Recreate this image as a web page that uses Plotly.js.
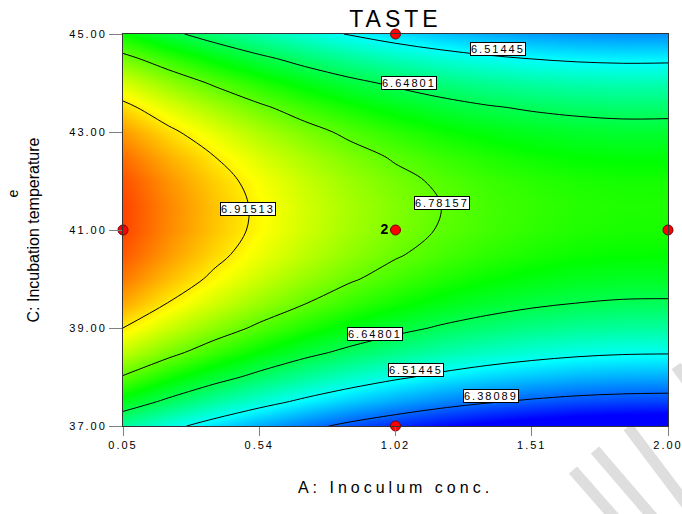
<!DOCTYPE html>
<html>
<head>
<meta charset="utf-8">
<script src="https://cdn.plot.ly/plotly-3.0.1.min.js"></script>
<style>
  html, body { margin: 0; padding: 0; background: #fff; }
  #chart { width: 682px; height: 514px; }
  .gtitle { letter-spacing: 4px; }
  .xtitle { letter-spacing: 4px; }
  .xtick text, .ytick text { letter-spacing: 2px; }
  .annotation-text { letter-spacing: 2px; }
</style>
</head>
<body>
<div id="chart"></div>
<script>
// A: Inoculum conc. grid
const inoculum = [0.05, 0.2125, 0.375, 0.5375, 0.7, 0.8625, 1.025, 1.1875, 1.35, 1.5125, 1.675, 1.8375, 2.0];
// C: Incubation temperature grid
const temperature = [37, 37.5, 38, 38.5, 39, 39.5, 40, 40.5, 41, 41.5, 42, 42.5, 43, 43.5, 44, 44.5, 45];
// TASTE response (rows = temperature, cols = inoculum)
const taste = [
  [6.588, 6.534, 6.485, 6.440, 6.400, 6.364, 6.334, 6.307, 6.286, 6.269, 6.257, 6.250, 6.247],
  [6.689, 6.635, 6.585, 6.541, 6.501, 6.466, 6.435, 6.409, 6.388, 6.372, 6.360, 6.353, 6.350],
  [6.777, 6.723, 6.674, 6.630, 6.590, 6.555, 6.525, 6.499, 6.478, 6.462, 6.450, 6.443, 6.441],
  [6.852, 6.799, 6.750, 6.706, 6.666, 6.632, 6.602, 6.576, 6.556, 6.540, 6.528, 6.521, 6.519],
  [6.915, 6.862, 6.814, 6.770, 6.731, 6.696, 6.666, 6.641, 6.621, 6.605, 6.594, 6.587, 6.586],
  [6.966, 6.913, 6.865, 6.822, 6.783, 6.748, 6.719, 6.694, 6.674, 6.658, 6.647, 6.641, 6.640],
  [7.005, 6.952, 6.904, 6.861, 6.822, 6.788, 6.759, 6.734, 6.714, 6.699, 6.688, 6.682, 6.681],
  [7.031, 6.979, 6.931, 6.888, 6.850, 6.816, 6.787, 6.762, 6.743, 6.728, 6.717, 6.712, 6.711],
  [7.046, 6.993, 6.946, 6.903, 6.865, 6.831, 6.802, 6.778, 6.759, 6.744, 6.734, 6.728, 6.728],
  [7.047, 6.995, 6.948, 6.905, 6.867, 6.834, 6.806, 6.782, 6.762, 6.748, 6.738, 6.733, 6.732],
  [7.037, 6.985, 6.938, 6.896, 6.858, 6.825, 6.797, 6.773, 6.754, 6.740, 6.730, 6.725, 6.725],
  [7.014, 6.962, 6.916, 6.873, 6.836, 6.803, 6.775, 6.752, 6.733, 6.719, 6.709, 6.705, 6.705],
  [6.979, 6.927, 6.881, 6.839, 6.802, 6.769, 6.741, 6.718, 6.700, 6.686, 6.677, 6.672, 6.672],
  [6.931, 6.880, 6.834, 6.792, 6.755, 6.723, 6.695, 6.672, 6.654, 6.641, 6.632, 6.627, 6.628],
  [6.871, 6.820, 6.774, 6.733, 6.696, 6.664, 6.637, 6.614, 6.596, 6.583, 6.574, 6.570, 6.571],
  [6.799, 6.749, 6.703, 6.662, 6.625, 6.593, 6.566, 6.544, 6.526, 6.513, 6.505, 6.501, 6.502],
  [6.715, 6.664, 6.619, 6.578, 6.542, 6.510, 6.483, 6.461, 6.444, 6.431, 6.423, 6.419, 6.420]
];
// contour levels
const levels = [6.38089, 6.51445, 6.64801, 6.78157, 6.91513];
// design points
const designA = [0.05, 1.025, 1.025, 2.0, 1.025];
const designC = [41, 45, 41, 41, 37];
const designLabel = ['', '', '2', '', ''];
// tick labels
const xTickVals = [0.05, 0.5375, 1.025, 1.5125, 2.0];
const xTickText = ['0.05', '0.54', '1.02', '1.51', '2.00'];
const yTickVals = [37, 39, 41, 43, 45];
const yTickText = ['37.00', '39.00', '41.00', '43.00', '45.00'];
// contour label text and placement
const labelText = ['6.51445', '6.64801', '6.91513', '6.78157', '6.64801', '6.51445', '6.38089'];
const labelA = [1.391, 1.072, 0.498, 1.190, 0.950, 1.097, 1.366];
const labelC = [44.70, 44.00, 41.43, 41.55, 38.88, 38.14, 37.61];

const FONT = 'Liberation Sans, Arial, sans-serif';

const colorscale = [
  [0, 'rgb(0,0,255)'],
  [0.2625, 'rgb(0,255,255)'],
  [0.5125, 'rgb(0,255,0)'],
  [0.75, 'rgb(255,255,0)'],
  [1, 'rgb(255,0,0)']
];

const traces = [
  {
    type: 'heatmap', x: inoculum, y: temperature, z: taste,
    zsmooth: 'best', colorscale: colorscale, zmin: 6.30, zmax: 7.10,
    showscale: false, hoverinfo: 'skip'
  },
  {
    type: 'contour', x: inoculum, y: temperature, z: taste,
    autocontour: false,
    contours: { coloring: 'none', start: levels[0], end: levels[levels.length - 1],
                size: levels[1] - levels[0], showlabels: false },
    line: { color: '#000', width: 1, smoothing: 1 },
    showscale: false, hoverinfo: 'skip'
  },
  {
    type: 'scatter', mode: 'markers+text', x: designA, y: designC,
    text: designLabel, textposition: 'middle left',
    textfont: { family: FONT, size: 14, color: '#000', weight: 'bold' },
    marker: { size: 10, color: '#ff0000', line: { color: '#7a0000', width: 1 } },
    cliponaxis: false, hoverinfo: 'skip', showlegend: false
  }
];

function px2paperX(px) { return (px - 123) / 545; }
function px2paperY(py) { return (426 - py) / 392; }

const annotations = labelText.map((t, i) => ({
  x: labelA[i], y: labelC[i], xref: 'x', yref: 'y', text: t, showarrow: false,
  font: { family: FONT, size: 11, color: '#000' },
  bgcolor: '#fff', bordercolor: '#000', borderwidth: 1, borderpad: 0
}));
annotations.push({
  x: px2paperX(12.5), y: px2paperY(193), xref: 'paper', yref: 'paper', text: 'e', showarrow: false,
  xanchor: 'center', yanchor: 'middle',
  textangle: -90, font: { family: FONT, size: 14, color: '#000' }
});

const stripes = [
  [573, 470, 615, 518],
  [595, 450, 662, 528],
  [628, 427, 692, 512],
  [676, 366, 692, 388]
];
const shapes = stripes.map(s => ({
  type: 'line', xref: 'paper', yref: 'paper', layer: 'below',
  x0: px2paperX(s[0]), y0: px2paperY(s[1]), x1: px2paperX(s[2]), y1: px2paperY(s[3]),
  line: { color: '#dedede', width: 11 }
}));

const layout = {
  width: 682, height: 514,
  margin: { l: 123, r: 14, t: 34, b: 88 },
  paper_bgcolor: '#fff', plot_bgcolor: '#fff',
  showlegend: false,
  title: { text: 'TASTE', x: 0.5, xref: 'paper', xanchor: 'center', y: 0.964, yanchor: 'middle',
           font: { family: FONT, size: 23, color: '#000' } },
  xaxis: {
    range: [0.05, 2.0], tickvals: xTickVals, ticktext: xTickText,
    ticks: 'outside', ticklen: 9, tickcolor: '#808080', tickwidth: 1,
    ticklabeloverflow: 'allow',
    showline: true, mirror: true, linecolor: '#333', linewidth: 1,
    showgrid: false, zeroline: false,
    tickfont: { family: FONT, size: 11, color: '#000' },
    title: { text: 'A: Inoculum conc.', standoff: 31, font: { family: FONT, size: 16, color: '#000' } }
  },
  yaxis: {
    range: [37, 45], tickvals: yTickVals, ticktext: yTickText,
    ticks: 'outside', ticklen: 13, tickcolor: '#808080', tickwidth: 1,
    ticklabeloverflow: 'allow',
    showline: true, mirror: true, linecolor: '#333', linewidth: 1,
    showgrid: false, zeroline: false,
    tickfont: { family: FONT, size: 11, color: '#000' },
    title: { text: 'C: Incubation temperature', standoff: 25, font: { family: FONT, size: 16, color: '#000' } }
  },
  annotations: annotations,
  shapes: shapes
};

Plotly.newPlot('chart', traces, layout, { displayModeBar: false, staticPlot: true });
</script>
</body>
</html>
